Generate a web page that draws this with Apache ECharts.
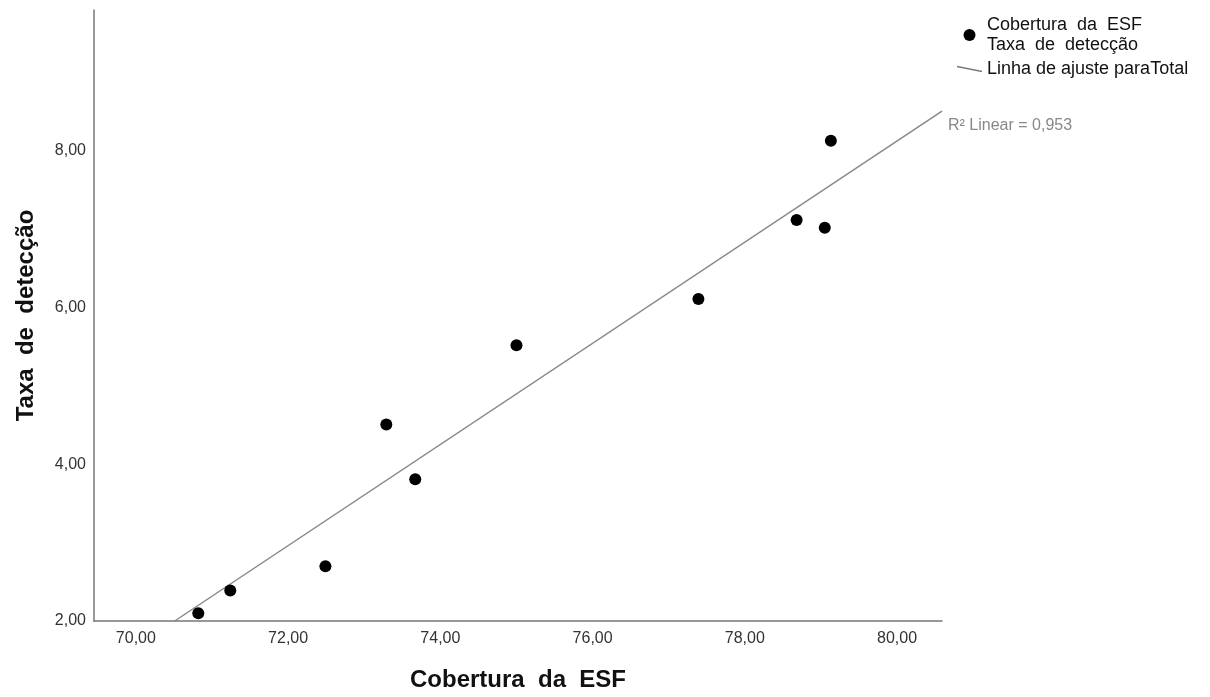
<!DOCTYPE html>
<html><head><meta charset="utf-8">
<script src="https://cdn.jsdelivr.net/npm/echarts@6/dist/echarts.min.js"></script>
<style>html,body{margin:0;padding:0;background:#fff}#c{width:1210px;height:697px}</style>
</head><body><div id="c"></div>
<script>
const coberturaESF = [70.82, 71.24, 72.49, 73.29, 73.67, 75.00, 77.39, 78.68, 79.05, 79.13];
const taxaDeteccao = [2.10, 2.39, 2.70, 4.51, 3.81, 5.52, 6.11, 7.12, 7.02, 8.13];
const fitLineX = [70.51, 80.59];
const fitLineY = [2.00, 8.51];
const xTicks = [70, 72, 74, 76, 78, 80];
const yTicks = [2, 4, 6, 8];
const r2Text = 'R² Linear = 0,953';
const scatterName = 'Cobertura  da  ESF\nTaxa  de  detecção';
const lineName = 'Linha de ajuste paraTotal';

const FONT = 'Liberation Sans, Arial, sans-serif';
const chart = echarts.init(document.getElementById('c'));
const fmt = v => v.toFixed(2).replace('.', ',');
chart.setOption({
  animation: false,
  textStyle: {fontFamily: FONT},
  grid: {left: 94, right: 268, top: 10, bottom: 75},
  legend: {
    orient: 'vertical', left: 957, top: 15, itemGap: 4, padding: 0,
    itemWidth: 25, itemHeight: 12,
    textStyle: {fontSize: 18, color: '#111', lineHeight: 20},
    data: [
      {name: scatterName, icon: 'circle', itemStyle: {color: '#000', opacity: 1}},
      {name: lineName, icon: 'path://M0,0 L25,5 L25,6.6 L0,1.6 Z', itemStyle: {color: '#777', opacity: 1}}
    ]
  },
  xAxis: {
    type: 'value', min: 69.45, max: 80.59,
    name: 'Cobertura  da  ESF', nameLocation: 'middle', nameGap: 47,
    nameTextStyle: {fontSize: 24, fontWeight: 'bold', color: '#111'},
    axisLine: {lineStyle: {color: '#777', width: 1.5}},
    axisTick: {show: false},
    splitLine: {show: false},
    axisLabel: {customValues: xTicks, formatter: fmt, color: '#333', fontSize: 16, margin: 10}
  },
  yAxis: {
    type: 'value', min: 2, max: 9.8,
    name: 'Taxa  de  detecção', nameLocation: 'middle', nameGap: 56,
    nameTextStyle: {fontSize: 24, fontWeight: 'bold', color: '#111'},
    axisLine: {show: true, lineStyle: {color: '#777', width: 1.5}},
    axisTick: {show: false},
    splitLine: {show: false},
    axisLabel: {customValues: yTicks, formatter: fmt, color: '#333', fontSize: 16, margin: 8}
  },
  series: [
    {
      name: scatterName, type: 'scatter', symbolSize: 12,
      itemStyle: {color: '#000', opacity: 1},
      data: coberturaESF.map((x, i) => [x, taxaDeteccao[i]]), z: 3
    },
    {
      name: lineName, type: 'line', symbol: 'none',
      lineStyle: {color: '#888', width: 1.5},
      data: fitLineX.map((x, i) => [x, fitLineY[i]]), z: 2
    }
  ],
  graphic: [{
    type: 'text', left: 948, top: 118,
    style: {text: r2Text, fill: '#888', fontSize: 16, fontFamily: FONT}
  }]
});
</script></body></html>
